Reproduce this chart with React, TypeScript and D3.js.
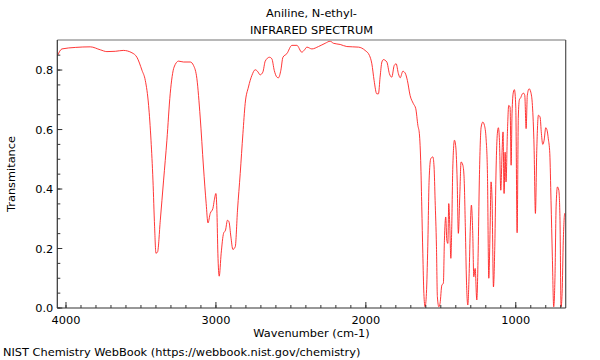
import React from "react";
import * as d3 from "d3";

const TITLE_LINES = ["Aniline, N-ethyl-", "INFRARED SPECTRUM"];
const X_LABEL = "Wavenumber (cm-1)";
const Y_LABEL = "Transmitance";
const FOOTER = "NIST Chemistry WebBook (https://webbook.nist.gov/chemistry)";

const X_DOMAIN = [4058, 667];
const Y_DOMAIN = [0, 0.901];
const X_TICKS = [4000, 3000, 2000, 1000];
const Y_TICKS = [0, 0.2, 0.4, 0.6, 0.8];

const WAVENUMBER = [
  4056, 4027, 3938, 3838, 3771, 3727, 3671, 3618, 3560, 3527, 3493, 3471, 3449, 3433, 3420, 3409, 3400, 3389, 3371, 3349,
  3327, 3305, 3279, 3249, 3216, 3171, 3149, 3127, 3105, 3083, 3065, 3053, 3038, 3020, 3011, 3000, 2993, 2987, 2978, 2965,
  2949, 2936, 2923, 2913, 2900, 2887, 2871, 2856, 2838, 2820, 2805, 2783, 2760, 2738, 2723, 2705, 2687, 2671, 2643, 2627,
  2611, 2593, 2583, 2567, 2553, 2527, 2493, 2460, 2427, 2409, 2393, 2360, 2316, 2271, 2238, 2216, 2171, 2127, 2049, 2005,
  1976, 1960, 1945, 1927, 1916, 1905, 1893, 1883, 1860, 1843, 1827, 1811, 1798, 1783, 1771, 1753, 1738, 1723, 1705, 1683,
  1667, 1653, 1643, 1633, 1627, 1620, 1613, 1605, 1596, 1587, 1578, 1567, 1553, 1545, 1538, 1529, 1523, 1513, 1505, 1493,
  1483, 1476, 1467, 1460, 1453, 1447, 1440, 1433, 1427, 1420, 1409, 1400, 1391, 1383, 1373, 1365, 1353, 1345, 1336, 1329,
  1320, 1311, 1303, 1296, 1287, 1280, 1271, 1260, 1251, 1243, 1231, 1220, 1209, 1198, 1189, 1180, 1171, 1165, 1158, 1149,
  1140, 1131, 1123, 1116, 1109, 1100, 1091, 1085, 1078, 1071, 1065, 1056, 1047, 1038, 1031, 1025, 1016, 1009, 1000, 991,
  983, 976, 967, 956, 947, 940, 931, 923, 911, 900, 889, 878, 869, 860, 849, 838, 829, 820, 811, 800,
  791, 783, 773, 765, 756, 747, 738, 731, 722, 713, 705, 698, 691, 683, 673, 665,
];

const TRANSMITTANCE = [
  0.849, 0.871, 0.876, 0.878, 0.868, 0.862, 0.863, 0.866, 0.858, 0.843, 0.799, 0.765, 0.681, 0.564, 0.430, 0.273, 0.184, 0.189, 0.295, 0.430,
  0.564, 0.720, 0.810, 0.830, 0.827, 0.827, 0.815, 0.771, 0.642, 0.474, 0.351, 0.286, 0.318, 0.335, 0.362, 0.385, 0.318, 0.184, 0.107, 0.184,
  0.251, 0.262, 0.295, 0.290, 0.239, 0.197, 0.206, 0.329, 0.452, 0.586, 0.687, 0.743, 0.782, 0.801, 0.796, 0.784, 0.793, 0.830, 0.843, 0.838,
  0.799, 0.776, 0.774, 0.799, 0.843, 0.855, 0.883, 0.883, 0.860, 0.868, 0.877, 0.871, 0.879, 0.890, 0.897, 0.890, 0.886, 0.879, 0.877, 0.866,
  0.849, 0.821, 0.765, 0.720, 0.720, 0.776, 0.827, 0.835, 0.827, 0.788, 0.776, 0.815, 0.821, 0.788, 0.774, 0.796, 0.790, 0.765, 0.715, 0.687,
  0.670, 0.614, 0.586, 0.474, 0.340, 0.184, 0.049, 0.004, 0.049, 0.206, 0.430, 0.502, 0.508, 0.474, 0.362, 0.206, 0.038, 0.004, 0.016, 0.077,
  0.083, 0.228, 0.306, 0.228, 0.217, 0.351, 0.273, 0.167, 0.273, 0.474, 0.564, 0.541, 0.430, 0.251, 0.385, 0.491, 0.480, 0.441, 0.262, 0.094,
  0.010, 0.116, 0.273, 0.346, 0.251, 0.105, 0.133, 0.027, 0.184, 0.430, 0.608, 0.625, 0.614, 0.569, 0.452, 0.100, 0.273, 0.424, 0.362, 0.071,
  0.206, 0.474, 0.586, 0.606, 0.564, 0.396, 0.530, 0.592, 0.385, 0.524, 0.424, 0.586, 0.681, 0.676, 0.480, 0.653, 0.726, 0.734, 0.676, 0.253,
  0.642, 0.700, 0.707, 0.720, 0.722, 0.715, 0.603, 0.715, 0.737, 0.726, 0.681, 0.541, 0.318, 0.530, 0.648, 0.642, 0.586, 0.550, 0.564, 0.606,
  0.597, 0.569, 0.519, 0.362, 0.172, 0.004, 0.116, 0.340, 0.407, 0.396, 0.295, 0.004, 0.049, 0.228, 0.318, 0.306,
];

const W = 600;
const H = 360;
const M = { left: 57.3, right: 565.7, top: 40, bottom: 308 };
const FONT = "DejaVu Sans, sans-serif";
const FS = 11.35;

export default function App() {
  const x = d3.scaleLinear().domain(X_DOMAIN).range([M.left, M.right]);
  const y = d3.scaleLinear().domain(Y_DOMAIN).range([M.bottom, M.top]);

  const pts = WAVENUMBER.map((w, i) => [w, TRANSMITTANCE[i]] as [number, number]);
  const line = d3
    .line<[number, number]>()
    .x((d) => x(d[0]))
    .y((d) => y(d[1]))
    .curve(d3.curveMonotoneX);
  const path = line(pts) || "";

  const xMinor = d3.range(700, 4100, 100).filter((v) => v <= X_DOMAIN[0] && v >= X_DOMAIN[1]);
  const yMinor = d3.range(0, 0.9, 0.05);

  return (
    <svg width={W} height={H} style={{ position: "absolute", left: 0, top: 0 }} fontFamily={FONT}>
      <rect width={W} height={H} fill="#fff" />
      <defs>
        <clipPath id="plot">
          <rect x={M.left} y={M.top} width={M.right - M.left} height={M.bottom - M.top} />
        </clipPath>
      </defs>
      {TITLE_LINES.map((t, i) => (
        <text key={t} x={(M.left + M.right) / 2} y={17 + i * 16.5} textAnchor="middle" fontSize={FS} fill="#000">
          {t}
        </text>
      ))}
      <path d={path} fill="none" stroke="#ff2020" strokeWidth={0.9} clipPath="url(#plot)" />
      <line x1={M.left} x2={M.right} y1={M.top} y2={M.top} stroke="#a0a0a0" strokeWidth={1.5} />
      <line x1={M.right} x2={M.right} y1={M.top} y2={M.bottom} stroke="#505050" strokeWidth={1.2} />
      <line x1={M.left} x2={M.left} y1={M.top} y2={M.bottom} stroke="#333" strokeWidth={1.2} />
      <line x1={M.left} x2={M.right} y1={M.bottom} y2={M.bottom} stroke="#333" strokeWidth={1.2} />
      {yMinor.map((v) => (
        <line key={"ym" + v} x1={M.left} x2={M.left + 3} y1={y(v)} y2={y(v)} stroke="#333" strokeWidth={1} />
      ))}
      {Y_TICKS.map((v) => (
        <g key={"y" + v}>
          <line x1={M.left} x2={M.left + 5} y1={y(v)} y2={y(v)} stroke="#333" strokeWidth={1} />
          <text x={M.left - 4} y={y(v) + 4} textAnchor="end" fontSize={FS} fill="#000">
            {v.toFixed(1)}
          </text>
        </g>
      ))}
      {xMinor.map((v) => (
        <line key={"xm" + v} x1={x(v)} x2={x(v)} y1={M.bottom} y2={M.bottom - 3} stroke="#333" strokeWidth={1} />
      ))}
      {X_TICKS.map((v) => (
        <g key={"x" + v}>
          <line x1={x(v)} x2={x(v)} y1={M.bottom} y2={M.bottom - 6} stroke="#333" strokeWidth={1} />
          <text x={x(v)} y={323.5} textAnchor="middle" fontSize={FS} fill="#000">
            {v}
          </text>
        </g>
      ))}
      <text x={(M.left + M.right) / 2} y={336.5} textAnchor="middle" fontSize={FS} fill="#000">
        {X_LABEL}
      </text>
      <text
        transform={`translate(15,${(M.top + M.bottom) / 2}) rotate(-90)`}
        textAnchor="middle"
        fontSize={FS}
        fill="#000"
      >
        {Y_LABEL}
      </text>
      <text x={3} y={356} fontSize={FS} fill="#000">
        {FOOTER}
      </text>
    </svg>
  );
}
